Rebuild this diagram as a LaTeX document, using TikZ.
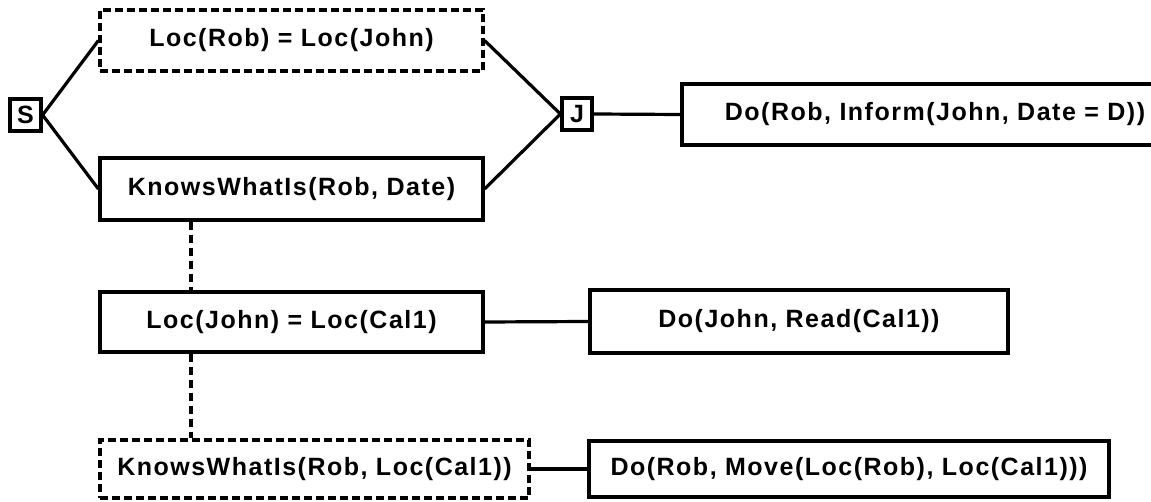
\documentclass[tikz,border=0pt]{standalone}
\usepackage{fontspec}
\setmainfont{Liberation Sans}[LetterSpace=6]
\begin{document}
\begin{tikzpicture}[x=1pt,y=-1pt,
  box/.style={draw, line width=3.2pt, rectangle, inner sep=0pt, font=\fontsize{25}{29}\selectfont\bfseries},
  dbox/.style={box, line width=3.2pt, dash pattern=on 8pt off 4pt},
  conn/.style={line width=3.2pt},
  dconn/.style={line width=3.2pt, dash pattern=on 8pt off 5pt}]
\useasboundingbox (0,0) rectangle (1151,502);
\clip (0,0) rectangle (1151,502);
\node[box, minimum width=31pt, minimum height=32pt] (S) at (25.5,115) {S};
\node[box, minimum width=30pt, minimum height=32pt] (J) at (577,114) {J};
\node[dbox, minimum width=383pt, minimum height=61pt] (top) at (291.5,40.5) {Loc(Rob) = Loc(John)};
\node[box, minimum width=383pt, minimum height=62pt] (knows) at (291.5,189) {KnowsWhatIs(Rob, Date)};
\node[box, minimum width=506pt, minimum height=61pt] (inform) at (935,114.5) {Do(Rob, Inform(John, Date = D))};
\node[box, minimum width=383pt, minimum height=60pt] (locjohn) at (291.5,322) {Loc(John) = Loc(Cal1)};
\node[box, minimum width=418pt, minimum height=63pt] (read) at (799,321.5) {Do(John, Read(Cal1))};
\node[dbox, minimum width=429pt, minimum height=58pt] (knowsloc) at (314.5,469) {KnowsWhatIs(Rob, Loc(Cal1))};
\node[box, minimum width=520pt, minimum height=56pt] (move) at (849,469) {Do(Rob, Move(Loc(Rob), Loc(Cal1)))};
\coordinate (dl) at (191,0);
\draw[conn] (S.east) -- (top.west);
\draw[conn] (S.east) -- (knows.west);
\draw[conn] (top.east) -- (J.west);
\draw[conn] (knows.east) -- (J.west);
\draw[conn] (J.east) -- (inform.west);
\draw[conn] (locjohn.east) -- (read.west);
\draw[conn] (knowsloc.east) -- (move.west);
\draw[dconn] (knows.south -| dl) -- (locjohn.north -| dl);
\draw[dconn] (locjohn.south -| dl) -- (knowsloc.north -| dl);
\end{tikzpicture}
\end{document}
